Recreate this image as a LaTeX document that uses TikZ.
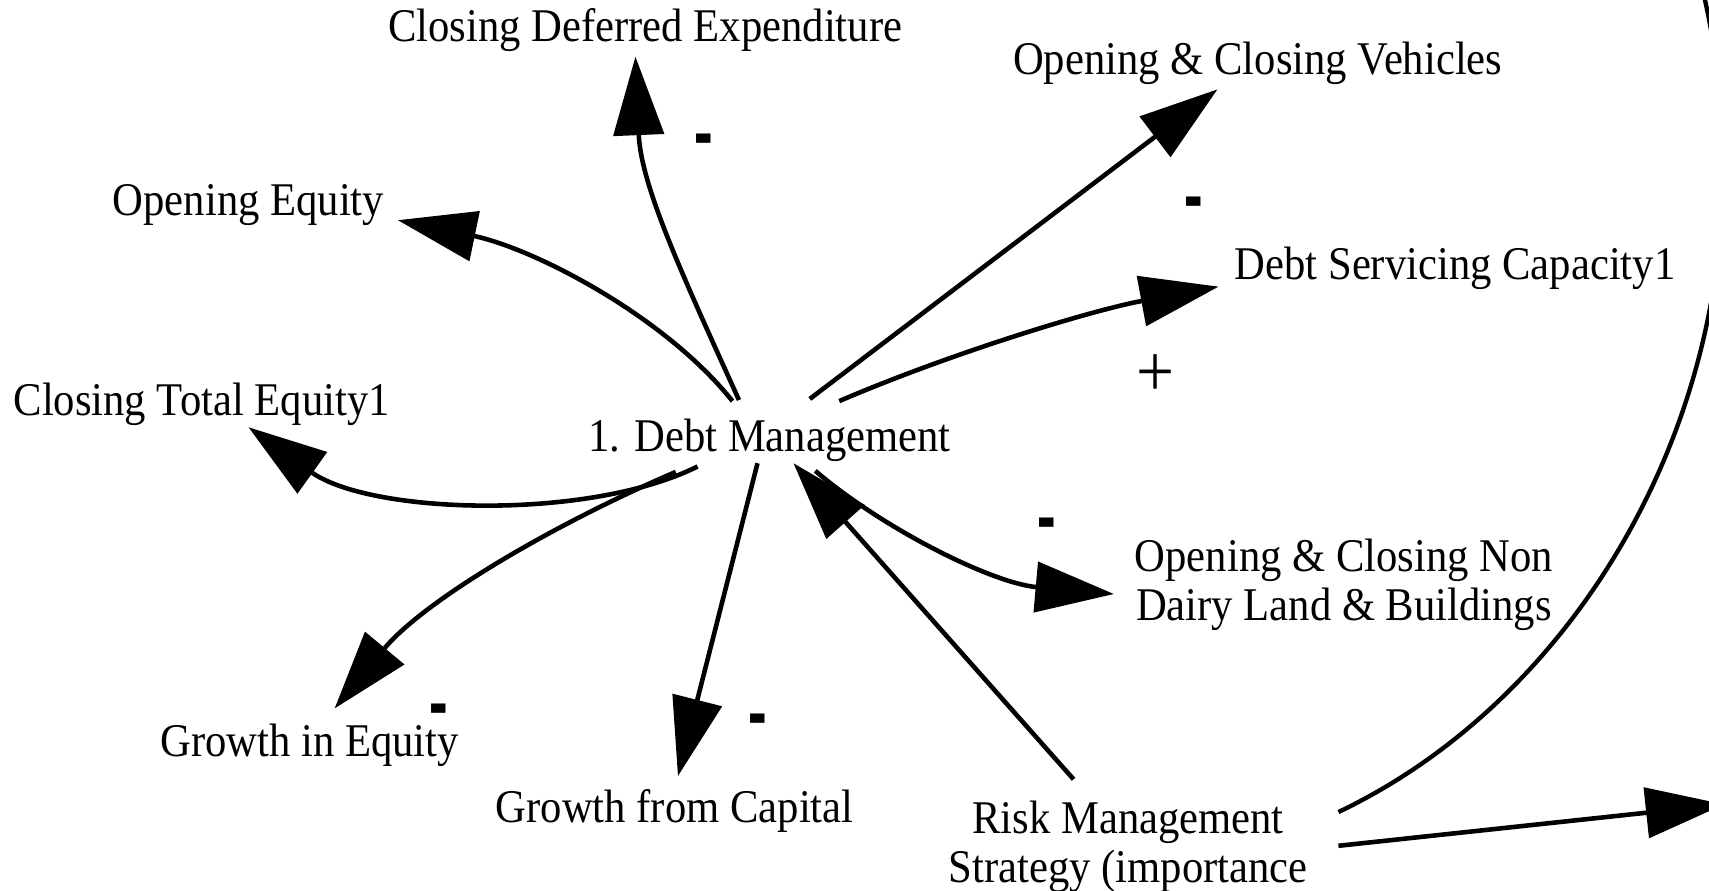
\documentclass[tikz,border=0pt]{standalone}
\usepackage{fontspec}
\setmainfont{Liberation Serif}[FakeStretch=0.91]
\usetikzlibrary{arrows.meta}
\begin{document}
\begin{tikzpicture}[x=1pt,y=-1pt,
  lbl/.style={font=\fontsize{43}{45}\selectfont, inner sep=0pt, anchor=base},
  sgn/.style={font=\fontsize{56}{56}\selectfont\bfseries, inner sep=0pt},
  plussgn/.style={font=\fontsize{68}{68}\selectfont, inner sep=0pt},
  link/.style={line width=4.2pt, -{Triangle[length=72pt,width=46pt]}},
  plainlink/.style={line width=4pt}]
\useasboundingbox (0,0) rectangle (1568,817);
\clip (0,0) rectangle (1568,817);
\fill[white] (0,0) rectangle (1568,817);

\node[lbl] (cde) at (592,38) {Closing Deferred Expenditure};
\node[lbl] (ocv) at (1154,68) {Opening \& Closing Vehicles};
\node[lbl] (oe) at (228,198) {Opening Equity};
\node[lbl] (dsc) at (1335,256) {Debt Servicing Capacity1};
\node[lbl] (cte) at (185,381) {Closing Total Equity1};
\node[lbl] (dm) at (706,414) {1. Debt Management};
\node[lbl,align=center] (ond) at (1233,569) {Opening \& Closing Non\\Dairy Land \& Buildings};
\node[lbl] (gie) at (284,694) {Growth in Equity};
\node[lbl] (gfc) at (619,755) {Growth from Capital};
\node[lbl,align=center] (rm) at (1035,810) {Risk Management\\Strategy (importance};

\coordinate (offR) at (1582,738);
\coordinate (offT) at (1562,-10);

\draw[link] ([shift={(-28,-47)}]dm.base) .. controls (625,250) and (588,170) .. ([shift={(-9,14)}]cde.base);
\draw[link] ([shift={(-34,-46)}]dm.base) .. controls (610,290) and (490,228) .. ([shift={(137,4)}]oe.base);
\draw[link] ([shift={(-66,14)}]dm.base) .. controls (540,478) and (340,472) .. ([shift={(43,11)}]cte.base);
\draw[link] ([shift={(-86,19)}]dm.base) .. controls (510,480) and (390,550) .. ([shift={(23,-44)}]gie.base);
\draw[link] ([shift={(-11,11)}]dm.base) -- ([shift={(3,-43)}]gfc.base);
\draw[link] ([shift={(37,-48)}]dm.base) -- ([shift={(-37,14)}]ocv.base);
\draw[link] ([shift={(64,-46)}]dm.base) .. controls (870,325) and (1000,285) .. ([shift={(-217,7)}]dsc.base);
\draw[link] ([shift={(42,18)}]dm.base) .. controls (810,485) and (910,535) .. ([shift={(-211,-24)}]ond.base);
\draw[link] ([shift={(-50,-95)}]rm.base) -- ([shift={(22,11)}]dm.base);
\draw[link] ([shift={(193,-34)}]rm.base) -- (offR);
\draw[plainlink] ([shift={(193,-65)}]rm.base) .. controls (1470,630) and (1640,320) .. (offT);

\node[sgn] (s1) at (646,137) {\scalebox{1}[1.8]{-}};
\node[sgn] (s2) at (1095,195) {\scalebox{1}[1.8]{-}};
\node[plussgn] (s3) at (1060,345) {+};
\node[sgn] (s4) at (960,489) {\scalebox{1}[1.8]{-}};
\node[sgn] (s5) at (403,660) {\scalebox{1}[1.8]{-}};
\node[sgn] (s6) at (695,669) {\scalebox{1}[1.8]{-}};
\end{tikzpicture}
\end{document}
